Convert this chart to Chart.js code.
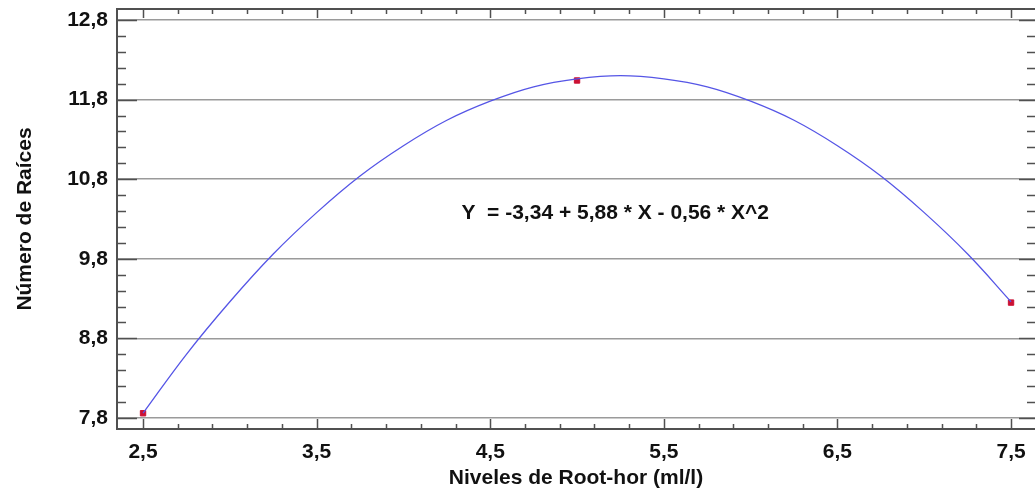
<!DOCTYPE html>
<html>
<head>
<meta charset="utf-8">
<script src="https://cdn.jsdelivr.net/npm/chart.js@4/dist/chart.umd.min.js"></script>
<style>
  html, body { margin: 0; padding: 0; background: #fff; }
  canvas { display: block; }
</style>
</head>
<body>
<canvas id="chart" width="1035" height="495"></canvas>
<script>
// Niveles de Root-hor (ml/l) de las muestras observadas
const nivelesObs = [2.5, 5.0, 7.5];
const raicesObs = [7.86, 12.04, 9.25];

// Curva ajustada
const curvaX = [2.5, 2.75, 3.0, 3.25, 3.5, 3.75, 4.0, 4.25, 4.5, 4.75, 5.0,
                5.25, 5.5, 5.75, 6.0, 6.25, 6.5, 6.75, 7.0, 7.25, 7.5];
const curvaY = [7.86, 8.60, 9.26, 9.86, 10.38, 10.84, 11.22, 11.54, 11.78, 11.96, 12.06,
                12.10, 12.06, 11.96, 11.78, 11.54, 11.22, 10.84, 10.38, 9.86, 9.26];

// Etiquetas de los ejes
const ticksX = [2.5, 3.5, 4.5, 5.5, 6.5, 7.5];
const ticksY = [7.8, 8.8, 9.8, 10.8, 11.8, 12.8];

const ecuacion = 'Y  = -3,34 + 5,88 * X - 0,56 * X^2';

const fuente = "'Liberation Sans', Arial, sans-serif";
const coma = v => v.toFixed(1).replace('.', ',');

// marco y marcas hacia adentro, como en Statgraphics
const marcoPlugin = {
  id: 'marco',
  afterDatasetsDraw(chart) {
    const { ctx, chartArea: a, scales: { x, y } } = chart;
    ctx.save();
    ctx.strokeStyle = '#505050';
    ctx.lineWidth = 2;
    ctx.beginPath();
    ctx.moveTo(a.right + 2, a.top);
    ctx.lineTo(a.left, a.top);
    ctx.lineTo(a.left, a.bottom);
    ctx.lineTo(a.right + 2, a.bottom);
    ctx.stroke();

    ctx.lineWidth = 1.5;
    ctx.beginPath();
    // eje x: marcas mayores y menores (cada 0,2)
    ticksX.forEach((v, i) => {
      const px = Math.round(x.getPixelForValue(v)) + 0.5;
      ctx.moveTo(px, a.top); ctx.lineTo(px, a.top + 9);
      ctx.moveTo(px, a.bottom); ctx.lineTo(px, a.bottom - 10);
      if (i < ticksX.length - 1) {
        for (let k = 1; k < 5; k++) {
          const m = Math.round(x.getPixelForValue(v + k * 0.2)) + 0.5;
          ctx.moveTo(m, a.top); ctx.lineTo(m, a.top + 5);
          ctx.moveTo(m, a.bottom); ctx.lineTo(m, a.bottom - 5);
        }
      }
    });
    // eje y
    ticksY.forEach((v, i) => {
      const py = Math.round(y.getPixelForValue(v)) + 0.5;
      ctx.moveTo(a.left, py); ctx.lineTo(a.left + 20, py);
      ctx.moveTo(a.right, py); ctx.lineTo(a.right - 16, py);
      if (i < ticksY.length - 1) {
        for (let k = 1; k < 5; k++) {
          const m = Math.round(y.getPixelForValue(v + k * 0.2)) + 0.5;
          ctx.moveTo(a.left, m); ctx.lineTo(a.left + 9, m);
          ctx.moveTo(a.right, m); ctx.lineTo(a.right - 8, m);
        }
      }
    });
    ctx.stroke();

    // ecuacion del modelo
    ctx.fillStyle = '#111';
    ctx.font = 'bold 21px ' + fuente;
    ctx.textAlign = 'center';
    ctx.textBaseline = 'middle';
    ctx.fillText(ecuacion, x.getPixelForValue(5.22), y.getPixelForValue(10.37));
    ctx.restore();
  }
};

const ctx = document.getElementById('chart').getContext('2d');
new Chart(ctx, {
  type: 'scatter',
  data: {
    datasets: [
      {
        label: 'Modelo',
        data: curvaX.map((v, i) => ({ x: v, y: curvaY[i] })),
        showLine: true,
        tension: 0.4,
        borderColor: '#5555e6',
        borderWidth: 1.3,
        pointRadius: 0
      },
      {
        label: 'Observado',
        data: nivelesObs.map((v, i) => ({ x: v, y: raicesObs[i] })),
        pointStyle: 'rect',
        pointRadius: 3.8,
        backgroundColor: '#cc1133',
        borderColor: '#cc1133'
      }
    ]
  },
  options: {
    responsive: false,
    animation: false,
    layout: { autoPadding: false, padding: { top: 9, right: 0, left: 0, bottom: 0 } },
    plugins: {
      legend: { display: false },
      tooltip: { enabled: false }
    },
    scales: {
      x: {
        type: 'linear',
        min: 2.35,
        max: 7.638,
        afterBuildTicks: s => { s.ticks = ticksX.map(v => ({ value: v })); },
        afterFit: s => { s.height = 66; s.paddingLeft = 0; s.paddingRight = 0; },
        grid: { display: false, drawTicks: false },
        border: { display: false },
        ticks: {
          color: '#111',
          font: { family: fuente, size: 21, weight: 'bold' },
          padding: 11,
          maxRotation: 0,
          autoSkip: false,
          callback: v => coma(v)
        },
        title: {
          display: true,
          text: 'Niveles de Root-hor (ml/l)',
          color: '#111',
          font: { family: fuente, size: 21, weight: 'bold' },
          padding: { top: 0, bottom: 4 }
        }
      },
      y: {
        type: 'linear',
        min: 7.662,
        max: 12.938,
        afterBuildTicks: s => { s.ticks = ticksY.map(v => ({ value: v })); },
        afterFit: s => { s.width = 117; s.paddingTop = 0; s.paddingBottom = 0; },
        grid: { color: '#9a9a9a', lineWidth: 1.5, drawTicks: false },
        border: { display: false },
        ticks: {
          color: '#111',
          font: { family: fuente, size: 21, weight: 'bold' },
          padding: 9,
          autoSkip: false,
          callback: v => coma(v)
        },
        title: {
          display: true,
          text: 'Número de Raíces',
          color: '#111',
          font: { family: fuente, size: 21, weight: 'bold' },
          padding: { top: 13, bottom: 0 }
        }
      }
    }
  },
  plugins: [marcoPlugin]
});
</script>
</body>
</html>
